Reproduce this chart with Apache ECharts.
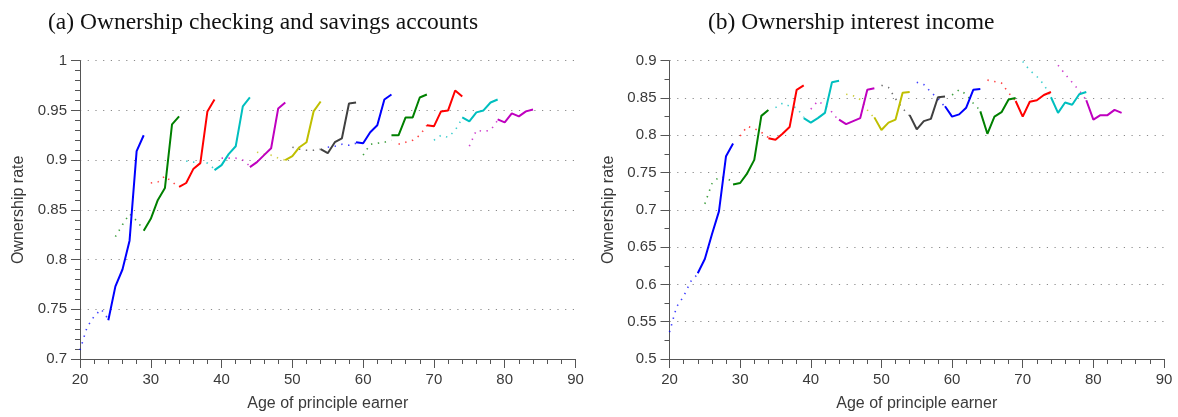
<!DOCTYPE html>
<html>
<head>
<meta charset="utf-8">
<script src="https://cdn.jsdelivr.net/npm/echarts@6/dist/echarts.min.js"></script>
<style>
  html, body { margin: 0; padding: 0; background: #fff; }
  #chart { width: 1178px; height: 417px; }
</style>
</head>
<body>
<div id="chart"></div>
<script>
// Cohort first observed age: each cohort has a solid run over six ages
// (start .. start+5) and a dotted lead-in over five ages (start-4 .. start).
const cohortStarts = [24, 29, 34, 39, 44, 49, 54, 59, 64, 69, 74, 79];

// Panel (a): ownership of checking and savings accounts
const checkingSolid = [
  [0.739, 0.773, 0.790, 0.819, 0.909, 0.925],
  [0.829, 0.841, 0.860, 0.872, 0.936, 0.944],
  [0.873, 0.877, 0.891, 0.897, 0.949, 0.961],
  [0.890, 0.895, 0.906, 0.914, 0.954, 0.963],
  [0.893, 0.898, 0.905, 0.912, 0.952, 0.958],
  [0.900, 0.904, 0.913, 0.918, 0.949, 0.959],
  [0.911, 0.907, 0.918, 0.922, 0.957, 0.958],
  [0.918, 0.917, 0.928, 0.935, 0.961, 0.966],
  [0.925, 0.925, 0.943, 0.943, 0.963, 0.966],
  [0.935, 0.934, 0.949, 0.950, 0.970, 0.964],
  [0.943, 0.939, 0.948, 0.950, 0.958, 0.961],
  [0.941, 0.938, 0.947, 0.944, 0.949, 0.951]
];
const checkingDotted = [
  [0.709, 0.732, 0.743, 0.750, 0.740],
  [0.823, 0.835, 0.846, 0.839, 0.830],
  [0.877, 0.878, 0.884, 0.878, 0.873],
  [0.899, 0.898, 0.899, 0.897, 0.891],
  [0.902, 0.902, 0.902, 0.900, 0.894],
  [0.908, 0.906, 0.905, 0.902, 0.900],
  [0.913, 0.911, 0.910, 0.910, 0.911],
  [0.913, 0.914, 0.916, 0.915, 0.917],
  [0.905, 0.916, 0.917, 0.918, 0.920],
  [0.916, 0.918, 0.920, 0.925, 0.935],
  [0.920, 0.925, 0.923, 0.930, 0.942],
  [0.914, 0.930, 0.929, 0.930, 0.940]
];

// Panel (b): ownership of interest income
const interestSolid = [
  [0.615, 0.634, 0.667, 0.698, 0.772, 0.789],
  [0.734, 0.736, 0.749, 0.767, 0.826, 0.834],
  [0.796, 0.794, 0.802, 0.811, 0.861, 0.867],
  [0.823, 0.817, 0.823, 0.830, 0.871, 0.873],
  [0.821, 0.815, 0.819, 0.823, 0.861, 0.863],
  [0.824, 0.807, 0.817, 0.821, 0.857, 0.858],
  [0.827, 0.808, 0.819, 0.822, 0.851, 0.852],
  [0.839, 0.825, 0.828, 0.837, 0.861, 0.862],
  [0.832, 0.802, 0.825, 0.831, 0.848, 0.850],
  [0.846, 0.825, 0.845, 0.847, 0.854, 0.858],
  [0.851, 0.830, 0.844, 0.841, 0.855, 0.858],
  [0.847, 0.821, 0.827, 0.827, 0.834, 0.830]
];
const interestDotted = [
  [0.536, 0.570, 0.584, 0.604, 0.614],
  [0.708, 0.735, 0.744, 0.743, 0.737],
  [0.799, 0.812, 0.809, 0.804, 0.797],
  [0.837, 0.843, 0.839, 0.837, 0.824],
  [0.835, 0.846, 0.840, 0.831, 0.819],
  [0.855, 0.853, 0.848, 0.834, 0.823],
  [0.867, 0.864, 0.849, 0.836, 0.826],
  [0.871, 0.868, 0.858, 0.849, 0.838],
  [0.854, 0.861, 0.855, 0.843, 0.833],
  [0.874, 0.872, 0.870, 0.857, 0.846],
  [0.899, 0.887, 0.879, 0.868, 0.851],
  [0.894, 0.882, 0.871, 0.860, 0.847]
];

const panelTitles = ['(a) Ownership checking and savings accounts', '(b) Ownership interest income'];
const xAxisName = 'Age of principle earner';
const yAxisName = 'Ownership rate';

// Line colours cycle through the classic plotting palette
const palette = ['#0000ff', '#008000', '#ff0000', '#00bfbf', '#bf00bf', '#bfbf00', '#404040'];

const tickFont = { fontFamily: 'Liberation Sans, Arial, sans-serif', fontSize: 15, color: '#3a3a3a' };
const nameFont = { fontFamily: 'Liberation Sans, Arial, sans-serif', fontSize: 16, color: '#3a3a3a' };
const titleFont = { fontFamily: 'Liberation Serif, Times New Roman, serif', fontSize: 23.5, fontWeight: 'normal', color: '#111' };
const axisLineColor = '#555';

function makeSeries(solid, dotted, axisIdx) {
  const out = [];
  cohortStarts.forEach((start, i) => {
    const color = palette[i % palette.length];
    out.push({
      type: 'line',
      xAxisIndex: axisIdx, yAxisIndex: axisIdx,
      data: dotted[i].map((v, k) => [start - 4 + k, v]),
      symbol: 'none', silent: true, z: 2,
      lineStyle: { color, width: 1.6, type: [1.4, 5.5], opacity: 0.75 }
    });
  });
  cohortStarts.forEach((start, i) => {
    const color = palette[i % palette.length];
    out.push({
      type: 'line',
      xAxisIndex: axisIdx, yAxisIndex: axisIdx,
      data: solid[i].map((v, k) => [start + k, v]),
      symbol: 'none', silent: true, z: 3,
      lineStyle: { color, width: 2 }
    });
  });
  return out;
}

function xAxis(gridIndex) {
  return {
    gridIndex, type: 'value', min: 20, max: 90, interval: 10,
    name: xAxisName, nameLocation: 'middle', nameGap: 37,
    nameTextStyle: nameFont,
    axisLine: { show: true, lineStyle: { color: axisLineColor, width: 1 } },
    axisTick: { show: true, inside: false, length: 9, lineStyle: { color: axisLineColor } },
    minorTick: { show: true, splitNumber: 5, length: 5, lineStyle: { color: axisLineColor } },
    axisLabel: Object.assign({ margin: 13 }, tickFont),
    splitLine: { show: false }
  };
}

function yAxis(gridIndex, min, max, minorSplit, fmt) {
  return {
    gridIndex, type: 'value', min, max, interval: 0.05,
    name: yAxisName, nameLocation: 'middle', nameGap: 53,
    nameTextStyle: nameFont,
    axisLine: { show: true, lineStyle: { color: axisLineColor, width: 1 } },
    axisTick: { show: true, inside: false, length: 9, lineStyle: { color: axisLineColor } },
    minorTick: { show: true, splitNumber: minorSplit, length: 5, lineStyle: { color: axisLineColor } },
    axisLabel: Object.assign({ margin: 13, formatter: fmt }, tickFont),
    splitLine: { show: true, lineStyle: { color: '#8a8a8a', width: 1, type: [1.2, 6.5] } }
  };
}

const fmt = v => String(+v.toFixed(2));

const chart = echarts.init(document.getElementById('chart'), null, { renderer: 'canvas' });
chart.setOption({
  animation: false,
  backgroundColor: '#fff',
  title: [
    { text: panelTitles[0], left: 43, top: 6, textStyle: titleFont },
    { text: panelTitles[1], left: 703, top: 6, textStyle: titleFont }
  ],
  grid: [
    { left: 80, right: 602.5, top: 60.7, bottom: 55.3 },
    { left: 669.5, right: 14, top: 60.7, bottom: 57.7 }
  ],
  xAxis: [xAxis(0), xAxis(1)],
  yAxis: [yAxis(0, 0.7, 1, 5, fmt), yAxis(1, 0.5, 0.9, 2, fmt)],
  series: makeSeries(checkingSolid, checkingDotted, 0).concat(makeSeries(interestSolid, interestDotted, 1))
});
</script>
</body>
</html>
